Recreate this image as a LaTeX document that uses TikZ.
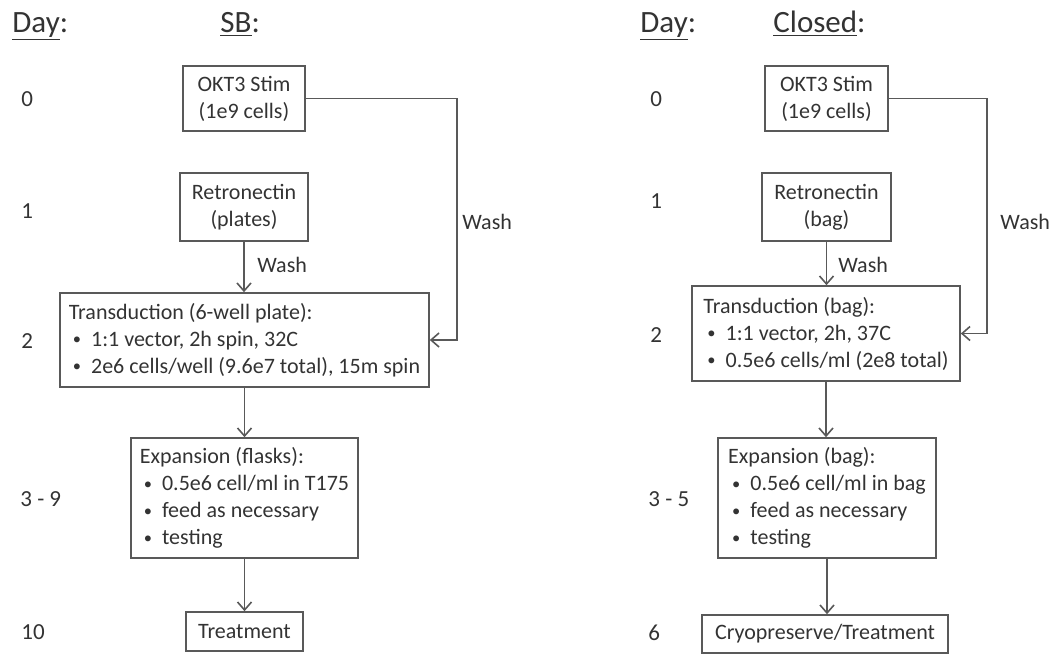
\documentclass[tikz,border=0pt]{standalone}
\usepackage{fontspec}
\setmainfont{Carlito}
\usetikzlibrary{arrows.meta}
\definecolor{inkgray}{HTML}{333333}
\definecolor{linegray}{HTML}{595959}
\newcommand{\itm}{\hspace*{2pt}\raisebox{0.7pt}{\scalebox{0.75}{\textbullet}}\hspace{5pt}}
\tikzset{
  stepbox/.style={draw=linegray,line width=0.8pt,text=inkgray,inner sep=0pt,
    align=center,font=\fontsize{11}{13.5}\selectfont},
  daylbl/.style={anchor=west,text=inkgray,inner sep=0pt,font=\fontsize{11.5}{13.5}\selectfont},
  headlbl/.style={anchor=base west,text=inkgray,inner sep=0pt,font=\fontsize{15.5}{18}\selectfont},
  washlbl/.style={anchor=west,text=inkgray,inner sep=0pt,font=\fontsize{11}{13.5}\selectfont},
  flow/.style={draw=linegray,line width=0.8pt,-{Straight Barb[length=4pt,width=7pt]}},
}
\begin{document}
\begin{tikzpicture}[x=0.5pt,y=-0.5pt]
\useasboundingbox (0,0) rectangle (1064,654);
% SB
\begin{scope}
  \node[headlbl] (dayhead1) at (12,32) {\underline{Day}:};
  \node[headlbl] (sbhead) at (220,32) {\underline{SB}:};
  \node[daylbl] (d0a) at (21,99) {0};
  \node[daylbl] (d1a) at (21,211) {1};
  \node[daylbl] (d2a) at (21,341) {2};
  \node[daylbl] (d3a) at (20,499) {3 - 9};
  \node[daylbl] (d10a) at (21,632) {10};
  \node[stepbox,minimum width=61pt,minimum height=32.5pt] (okt1) at (244,98.5)
    {OKT3 Stim\\(1e9 cells)};
  \node[stepbox,minimum width=64pt,minimum height=34pt] (retro1) at (244,207)
    {Retronectin\\(plates)};
  \node[stepbox,align=left,minimum width=184.5pt,minimum height=47pt] (trans1) at (244.5,340)
    {Transduction (6-well plate):\\\itm 1:1 vector, 2h spin, 32C\\\itm 2e6 cells/well (9.6e7 total), 15m spin};
  \node[stepbox,align=left,minimum width=113.5pt,minimum height=60pt] (exp1) at (244.5,498)
    {Expansion (flasks):\\\itm 0.5e6 cell/ml in T175\\\itm feed as necessary\\\itm testing};
  \node[stepbox,minimum width=58.5pt,minimum height=19.5pt] (treat1) at (244.5,631.5)
    {Treatment};
  \coordinate (loop1) at (457,98.5);
  \draw[flow] (retro1.south) -- (retro1.south |- trans1.north);
  \draw[flow] (trans1.south) -- (exp1.north);
  \draw[flow] (exp1.south) -- (treat1.north);
  \draw[flow] (okt1.east) -- (loop1) |- (trans1.east);
  \node[washlbl] (wash1a) at (257,265) {Wash};
  \node[washlbl] (wash1b) at (462,222) {Wash};
\end{scope}
% Closed
\begin{scope}
  \node[headlbl] (dayhead2) at (640,32) {\underline{Day}:};
  \node[headlbl] (closedhead) at (773,32) {\underline{Closed}:};
  \node[daylbl] (d0b) at (650,99) {0};
  \node[daylbl] (d1b) at (650,201) {1};
  \node[daylbl] (d2b) at (650,335) {2};
  \node[daylbl] (d3b) at (648,499) {3 - 5};
  \node[daylbl] (d6b) at (648,633) {6};
  \node[stepbox,minimum width=61.5pt,minimum height=32.5pt] (okt2) at (826.5,98.5)
    {OKT3 Stim\\(1e9 cells)};
  \node[stepbox,minimum width=64.5pt,minimum height=34pt] (retro2) at (826.5,207)
    {Retronectin\\(bag)};
  \node[stepbox,align=left,minimum width=134pt,minimum height=47.5pt] (trans2) at (826,333.5)
    {Transduction (bag):\\\itm 1:1 vector, 2h, 37C\\\itm 0.5e6 cells/ml (2e8 total)};
  \node[stepbox,align=left,minimum width=109pt,minimum height=60pt] (exp2) at (827,498)
    {Expansion (bag):\\\itm 0.5e6 cell/ml in bag\\\itm feed as necessary\\\itm testing};
  \node[stepbox,minimum width=123pt,minimum height=19pt] (cryo2) at (825,634)
    {Cryopreserve/Treatment};
  \coordinate (loop2) at (987,98.5);
  \draw[flow] (retro2.south) -- (retro2.south |- trans2.north);
  \draw[flow] (trans2.south) -- (trans2.south |- exp2.north);
  \draw[flow] (exp2.south) -- (exp2.south |- cryo2.north);
  \draw[flow] (okt2.east) -- (loop2) |- (trans2.east);
  \node[washlbl] (wash2a) at (838,265) {Wash};
  \node[washlbl] (wash2b) at (1000,222) {Wash};
\end{scope}
\end{tikzpicture}
\end{document}
